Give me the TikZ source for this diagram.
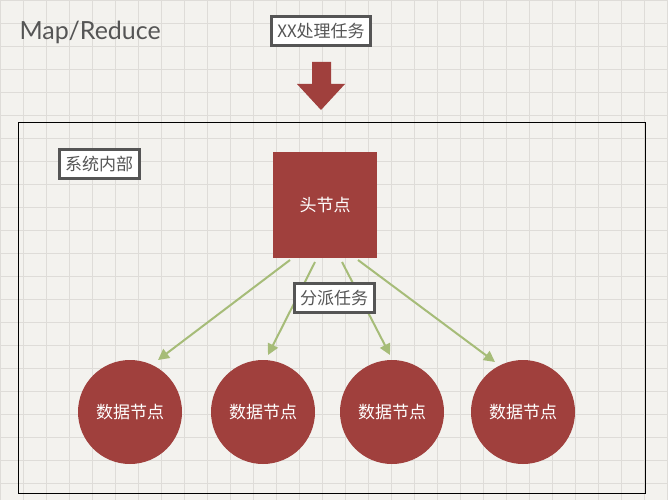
\documentclass[tikz,border=0pt]{standalone}
\usepackage{fontspec}
\setmainfont{Lato}
\newfontfamily\cjk{Noto Sans CJK SC}
\usetikzlibrary{arrows.meta}
\definecolor{rd}{HTML}{A0403D}
\definecolor{gr}{HTML}{A6BC78}
\definecolor{bd}{HTML}{555555}
\definecolor{paper}{HTML}{F3F2EE}
\definecolor{grid}{HTML}{DEDCD8}
\tikzset{
  lbl/.style={draw=bd,line width=3pt,fill=white,text=bd,font=\cjk\fontsize{17}{17}\selectfont,inner xsep=6pt,inner ysep=7pt},
  dn/.style={circle,fill=rd,minimum size=104pt,inner sep=0pt,text=white,font=\cjk\fontsize{17}{17}\selectfont},
  ar/.style={gr,line width=2pt,-{Triangle[length=11pt,width=11pt]}}
}
\begin{document}
\begin{tikzpicture}[x=1pt,y=-1pt]
\fill[paper] (0,0) rectangle (668,500);
\useasboundingbox (0,0) rectangle (668,500);
\foreach \i in {0,23,...,667} \draw[grid,line width=0.6pt] (\i,0) -- (\i,500);
\foreach \j in {0,23,...,499} \draw[grid,line width=0.6pt] (0,\j) -- (668,\j);
\node[anchor=west,text=bd,font=\fontsize{25}{25}\selectfont] (title) at (16,32) {Map/Reduce};
\node[lbl] (task) at (321,31) {XX处理任务};
\fill[rd] (312,62) -- (331,62) -- (331,84) -- (345,84) -- (321,110) -- (297,84) -- (312,84) -- cycle;
\draw[black,line width=1pt] (18,122) rectangle (645,493);
\node[lbl] (sys) at (99,164) {系统内部};
\node[fill=rd,minimum width=104pt,minimum height=106pt,inner sep=0pt,text=white,font=\cjk\fontsize{17}{17}\selectfont] (head) at (325,205) {头节点};
\node[dn] (d1) at (130,412) {数据节点};
\node[dn] (d2) at (263,412) {数据节点};
\node[dn] (d3) at (392,412) {数据节点};
\node[dn] (d4) at (523,412) {数据节点};
\coordinate (s1) at (290,260);
\coordinate (s2) at (315,262);
\coordinate (s3) at (342,262);
\coordinate (s4) at (358,260);
\draw[ar] (s1) -- (158,360);
\draw[ar] (s2) -- (268,355);
\draw[ar] (s3) -- (390,355);
\draw[ar] (s4) -- (495,362);
\node[lbl] (dispatch) at (334,298) {分派任务};
\end{tikzpicture}
\end{document}
